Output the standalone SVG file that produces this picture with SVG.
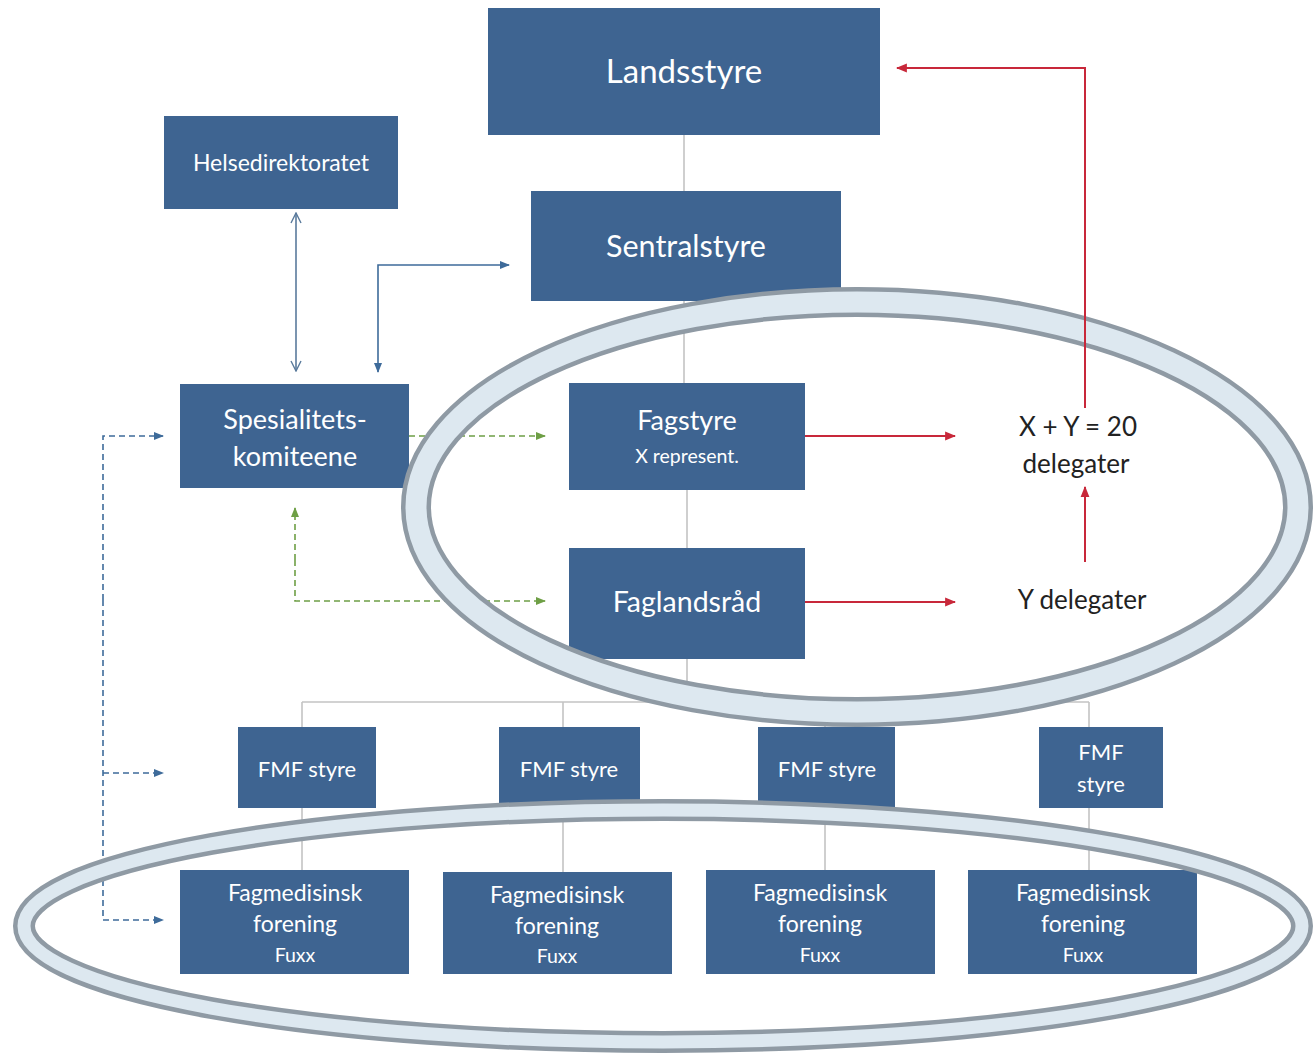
<svg xmlns="http://www.w3.org/2000/svg" width="1316" height="1054" viewBox="0 0 1316 1054">
<defs>
<style>
.box{fill:#3e6491}
.t{fill:#fff;font-family:Lato,"Open Sans","Liberation Sans",sans-serif;text-anchor:middle}
.d{fill:#222;font-family:Lato,"Open Sans","Liberation Sans",sans-serif;text-anchor:middle}
.gray{stroke:#c4c4c4;stroke-width:1.6;fill:none}
.blue{stroke:#3e6b9a;stroke-width:1.6;fill:none}
.bdash{stroke:#3e6b9a;stroke-width:1.6;fill:none;stroke-dasharray:6 4}
.gdash{stroke:#6e9f45;stroke-width:1.6;fill:none;stroke-dasharray:6 4}
.red{stroke:#c8283a;stroke-width:2;fill:none}
.ringo{fill:none;stroke:#8f9aa4}
.ringi{fill:none;stroke:#dde8f0}
</style>
<marker id="ab" viewBox="0 0 10 10" refX="9" refY="5" markerWidth="10" markerHeight="10" markerUnits="userSpaceOnUse" orient="auto"><path d="M0,1 L10,5 L0,9 Z" fill="#3e6b9a"/></marker>
<marker id="ag" viewBox="0 0 10 10" refX="9" refY="5" markerWidth="10" markerHeight="10" markerUnits="userSpaceOnUse" orient="auto"><path d="M0,1 L10,5 L0,9 Z" fill="#6e9f45"/></marker>
<marker id="ar" viewBox="0 0 10 10" refX="9" refY="5" markerWidth="11" markerHeight="11" markerUnits="userSpaceOnUse" orient="auto"><path d="M0,1 L10,5 L0,9 Z" fill="#c8283a"/></marker>
<marker id="av" viewBox="0 0 12 12" refX="11" refY="6" markerWidth="12" markerHeight="12" markerUnits="userSpaceOnUse" orient="auto-start-reverse"><path d="M1,1 L11,6 L1,11" fill="none" stroke="#5a7a9c" stroke-width="1.4"/></marker>
</defs>
<rect width="1316" height="1054" fill="#fff"/>

<g id="connectors">
<path class="gray" d="M684,135 V191 M684,301 V383 M687,490 V548 M687,659 V702 M302,702 H1089 M302,702 V727 M302,808 V870 M563,702 V727 M563,800 V872 M825,702 V727 M825,800 V870 M1089,702 V727 M1089,808 V870"/>
<path d="M296,213 V371" stroke="#5a7a9c" stroke-width="1.6" fill="none" marker-start="url(#av)" marker-end="url(#av)"/>
<path class="blue" d="M378,300 V372" marker-end="url(#ab)"/>
<path class="blue" d="M378,300 V265 H509" marker-end="url(#ab)"/>
<path class="gdash" d="M409,436 H545" marker-end="url(#ag)"/>
<path class="gdash" d="M295,560 V508" marker-end="url(#ag)"/>
<path class="gdash" d="M295,560 V601 H545" marker-end="url(#ag)"/>
<path class="bdash" d="M103,600 V436 H163" marker-end="url(#ab)"/>
<path class="bdash" d="M103,600 V920 H163" marker-end="url(#ab)"/>
<path class="bdash" d="M103,773 H163" marker-end="url(#ab)"/>
</g>

<g id="landsstyre"><rect class="box" x="488" y="8" width="392" height="127"/><text class="t" x="684" y="83" font-size="33">Landsstyre</text></g>
<g id="helsedirektoratet"><rect class="box" x="164" y="116" width="234" height="93"/><text class="t" x="281" y="171" font-size="23">Helsedirektoratet</text></g>
<g id="sentralstyre"><rect class="box" x="531" y="191" width="310" height="110"/><text class="t" x="686" y="257" font-size="30.5">Sentralstyre</text></g>
<g id="spesialitetskomiteene"><rect class="box" x="180" y="384" width="229" height="104"/><text class="t" x="295" y="429" font-size="27">Spesialitets-</text><text class="t" x="295" y="466" font-size="27">komiteene</text></g>
<g id="fagstyre"><rect class="box" x="569" y="383" width="236" height="107"/><text class="t" x="687" y="430" font-size="27">Fagstyre</text><text class="t" x="687" y="463" font-size="19.5">X represent.</text></g>
<g id="faglandsrad"><rect class="box" x="569" y="548" width="236" height="111"/><text class="t" x="687" y="612" font-size="28.5">Faglandsråd</text></g>
<g id="xy"><text class="d" x="1078" y="436" font-size="26">X + Y = 20</text><text class="d" x="1076" y="473" font-size="26">delegater</text></g>
<g id="ydelegater"><text class="d" x="1082" y="609" font-size="26">Y delegater</text></g>

<g id="fmf1"><rect class="box" x="238" y="727" width="138" height="81"/><text class="t" x="307" y="777" font-size="22">FMF styre</text></g>
<g id="fmf2"><rect class="box" x="499" y="727" width="141" height="81"/><text class="t" x="569" y="777" font-size="22">FMF styre</text></g>
<g id="fmf3"><rect class="box" x="758" y="727" width="137" height="81"/><text class="t" x="827" y="777" font-size="22">FMF styre</text></g>
<g id="fmf4"><rect class="box" x="1039" y="727" width="124" height="81"/><text class="t" x="1101" y="760" font-size="22">FMF</text><text class="t" x="1101" y="792" font-size="22">styre</text></g>

<g id="fag1"><rect class="box" x="180" y="870" width="229" height="104"/><text class="t" x="295" y="901" font-size="23">Fagmedisinsk</text><text class="t" x="295" y="932" font-size="23">forening</text><text class="t" x="295" y="962" font-size="19.5">Fuxx</text></g>
<g id="fag2"><rect class="box" x="443" y="872" width="229" height="102"/><text class="t" x="557" y="903" font-size="23">Fagmedisinsk</text><text class="t" x="557" y="934" font-size="23">forening</text><text class="t" x="557" y="963" font-size="19.5">Fuxx</text></g>
<g id="fag3"><rect class="box" x="706" y="870" width="229" height="104"/><text class="t" x="820" y="901" font-size="23">Fagmedisinsk</text><text class="t" x="820" y="932" font-size="23">forening</text><text class="t" x="820" y="962" font-size="19.5">Fuxx</text></g>
<g id="fag4"><rect class="box" x="968" y="870" width="229" height="104"/><text class="t" x="1083" y="901" font-size="23">Fagmedisinsk</text><text class="t" x="1083" y="932" font-size="23">forening</text><text class="t" x="1083" y="962" font-size="19.5">Fuxx</text></g>

<g id="ring-top">
<ellipse class="ringo" cx="857" cy="507" rx="441" ry="205" stroke-width="30"/>
<ellipse class="ringi" cx="857" cy="507" rx="441" ry="205" stroke-width="21"/>
</g>
<g id="ring-bottom">
<ellipse class="ringo" cx="663" cy="926" rx="639" ry="116" stroke-width="22"/>
<ellipse class="ringi" cx="663" cy="926" rx="639" ry="116" stroke-width="13"/>
</g>

<g id="connectors-red">
<path class="red" d="M805,436 H955" marker-end="url(#ar)"/>
<path class="red" d="M805,602 H955" marker-end="url(#ar)"/>
<path class="red" d="M1085,562 V487" marker-end="url(#ar)"/>
<path class="red" d="M1085,408 V68 H897" marker-end="url(#ar)"/>
</g>
</svg>
